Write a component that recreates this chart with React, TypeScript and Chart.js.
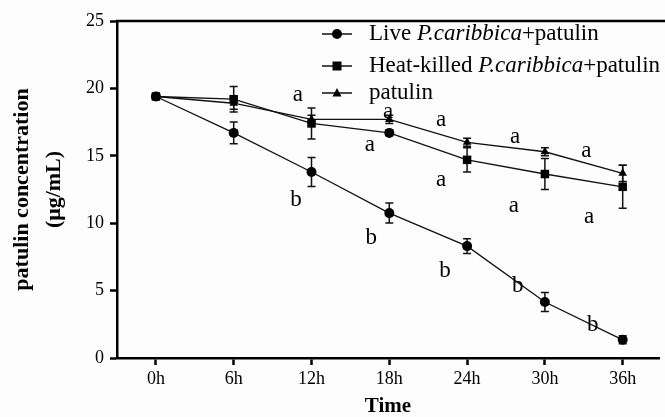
import React, { useEffect, useRef } from 'react';
import { Chart, registerables } from 'chart.js';

Chart.register(...registerables);

// ---- data ----
const hours = [0, 6, 12, 18, 24, 30, 36];
const hourLabels = ['0h', '6h', '12h', '18h', '24h', '30h', '36h'];
const yTicks = [0, 5, 10, 15, 20, 25];

const liveValues = [19.4, 16.7, 13.8, 10.75, 8.3, 4.15, 1.35];
const liveErrors = [0, 0.8, 1.07, 0.74, 0.55, 0.7, 0.3];

const heatValues = [19.4, 19.2, 17.4, 16.7, 14.7, 13.65, 12.7];
const heatErrors = [0, 0.95, 1.15, 0.2, 0.9, 1.15, 1.6];

const patulinValues = [19.4, 18.9, 17.7, 17.7, 16.0, 15.3, 13.7];
const patulinErrors = [0, 0.45, 0.3, 0.3, 0.3, 0.3, 0.6];

const seriesNames = ['Live P.caribbica+patulin', 'Heat-killed P.caribbica+patulin', 'patulin'];
const italicPart = 'P.caribbica';

const annotationLetters = ['a', 'a', 'a', 'a', 'a', 'a', 'a', 'a', 'a', 'b', 'b', 'b', 'b', 'b'];
const annotationX = [10.95, 17.9, 22.0, 27.7, 33.2, 16.5, 22.0, 27.6, 33.4, 10.8, 16.6, 22.3, 27.9, 33.7];
const annotationY = [19.5, 18.25, 17.65, 16.4, 15.35, 15.8, 13.2, 11.3, 10.45, 11.7, 8.9, 6.45, 5.35, 2.45];

const SERIF = "'Liberation Serif', 'Times New Roman', serif";

function drawMarker(ctx: CanvasRenderingContext2D, style: string, x: number, y: number) {
  ctx.beginPath();
  if (style === 'circle') {
    ctx.arc(x, y, 5, 0, Math.PI * 2);
  } else if (style === 'rect') {
    ctx.rect(x - 4.5, y - 4.5, 9, 9);
  } else {
    ctx.moveTo(x, y - 5);
    ctx.lineTo(x + 4.5, y + 3.5);
    ctx.lineTo(x - 4.5, y + 3.5);
    ctx.closePath();
  }
  ctx.fill();
}

const decorPlugin = {
  id: 'decor',
  beforeDraw(chart: any) {
    const ctx = chart.ctx;
    ctx.save();
    ctx.fillStyle = '#fdfdfd';
    ctx.fillRect(0, 0, chart.width, chart.height);
    ctx.restore();
  },
  beforeDatasetsDraw(chart: any) {
    const ctx = chart.ctx;
    const xs = chart.scales.x;
    const ys = chart.scales.y;
    const groups = [
      [liveValues, liveErrors],
      [heatValues, heatErrors],
      [patulinValues, patulinErrors],
    ];
    ctx.save();
    ctx.strokeStyle = '#111';
    ctx.lineWidth = 1.5;
    groups.forEach(([vals, errs]) => {
      vals.forEach((v: number, i: number) => {
        const e = errs[i];
        if (!e) return;
        const px = xs.getPixelForValue(hours[i]);
        const top = ys.getPixelForValue(v + e);
        const bot = ys.getPixelForValue(v - e);
        ctx.beginPath();
        ctx.moveTo(px, top);
        ctx.lineTo(px, bot);
        ctx.moveTo(px - 4, top);
        ctx.lineTo(px + 4, top);
        ctx.moveTo(px - 4, bot);
        ctx.lineTo(px + 4, bot);
        ctx.stroke();
      });
    });
    ctx.restore();
  },
  afterDraw(chart: any) {
    const ctx = chart.ctx;
    const xs = chart.scales.x;
    const ys = chart.scales.y;
    const area = chart.chartArea;
    ctx.save();
    // top frame line
    ctx.strokeStyle = '#000';
    ctx.lineWidth = 2.5;
    ctx.beginPath();
    ctx.moveTo(area.left - 1, area.top);
    ctx.lineTo(chart.width, area.top);
    ctx.stroke();

    // letters
    ctx.fillStyle = '#000';
    ctx.font = `23px ${SERIF}`;
    ctx.textAlign = 'center';
    ctx.textBaseline = 'middle';
    annotationLetters.forEach((t, i) => {
      ctx.fillText(t, xs.getPixelForValue(annotationX[i]), ys.getPixelForValue(annotationY[i]));
    });

    // legend
    const styles = ['circle', 'rect', 'triangle'];
    const rowY = [34, 66, 93];
    seriesNames.forEach((name, i) => {
      const y = rowY[i];
      ctx.strokeStyle = '#111';
      ctx.lineWidth = 1.5;
      ctx.beginPath();
      ctx.moveTo(322, y);
      ctx.lineTo(352, y);
      ctx.stroke();
      ctx.fillStyle = '#000';
      drawMarker(ctx, styles[i], 337, y);
      ctx.textAlign = 'left';
      ctx.textBaseline = 'middle';
      let x = 369;
      const parts = name.split(italicPart);
      parts.forEach((p, k) => {
        ctx.font = `23px ${SERIF}`;
        ctx.fillText(p, x, y);
        x += ctx.measureText(p).width;
        if (k < parts.length - 1) {
          ctx.font = `italic 23px ${SERIF}`;
          ctx.fillText(italicPart, x, y);
          x += ctx.measureText(italicPart).width;
        }
      });
    });
    ctx.restore();
  },
};

export default function App() {
  const canvasRef = useRef<HTMLCanvasElement>(null);

  useEffect(() => {
    const canvas = canvasRef.current;
    if (!canvas) return;
    const mk = (values: number[]) => values.map((v, i) => ({ x: hours[i], y: v }));
    const chart = new Chart(canvas, {
      type: 'line',
      data: {
        datasets: [
          {
            label: seriesNames[0],
            data: mk(liveValues),
            borderColor: '#111',
            backgroundColor: '#000',
            borderWidth: 1.3,
            pointStyle: 'circle',
            pointRadius: 5,
            pointBorderWidth: 0,
            order: 2,
          },
          {
            label: seriesNames[2],
            data: mk(patulinValues),
            borderColor: '#111',
            backgroundColor: '#000',
            borderWidth: 1.3,
            pointStyle: 'triangle',
            pointRadius: 5,
            pointBorderWidth: 0,
            order: 1,
          },
          {
            label: seriesNames[1],
            data: mk(heatValues),
            borderColor: '#111',
            backgroundColor: '#000',
            borderWidth: 1.3,
            pointStyle: ['rect', 'rect', 'rect', 'circle', 'rect', 'rect', 'rect'],
            pointRadius: [6, 6, 6, 5, 6, 6, 6],
            pointBorderWidth: 0,
            order: 0,
          },
        ],
      },
      options: {
        responsive: false,
        animation: false,
        events: [],
        layout: { padding: { top: 21, right: 0, left: 0, bottom: 0 } },
        plugins: {
          legend: { display: false },
          tooltip: { enabled: false },
        },
        scales: {
          x: {
            type: 'linear',
            min: -3,
            max: 38.8,
            afterBuildTicks: (s: any) => {
              s.ticks = hours.map((v) => ({ value: v }));
            },
            afterFit: (s: any) => {
              s.height = 59;
            },
            ticks: {
              callback: (v: any) => {
                const i = hours.indexOf(Number(v));
                return i >= 0 ? hourLabels[i] : '';
              },
              color: '#000',
              font: { family: SERIF, size: 18 },
              padding: 3,
              maxRotation: 0,
              autoSkip: false,
            },
            grid: {
              drawOnChartArea: false,
              drawTicks: true,
              tickLength: 7,
              tickWidth: 2.5,
              color: '#000',
            },
            border: { display: true, width: 2.5, color: '#000' },
            title: {
              display: true,
              text: 'Time',
              color: '#000',
              font: { family: SERIF, size: 21, weight: 'bold', lineHeight: 1 },
              padding: { top: 0, bottom: 0 },
            },
          },
          y: {
            type: 'linear',
            min: 0,
            max: 25,
            afterBuildTicks: (s: any) => {
              s.ticks = yTicks.map((v) => ({ value: v }));
            },
            afterFit: (s: any) => {
              s.width = 117;
            },
            ticks: {
              color: '#000',
              font: { family: SERIF, size: 18 },
              padding: 6,
            },
            grid: {
              drawOnChartArea: false,
              drawTicks: true,
              tickLength: 7,
              tickWidth: 2.5,
              color: '#000',
            },
            border: { display: true, width: 2.5, color: '#000' },
            title: {
              display: true,
              text: ['patulin concentration', '(μg/mL)'],
              color: '#000',
              font: { family: SERIF, size: 22, weight: 'bold', lineHeight: 1.42 },
              padding: { top: 7, bottom: 0 },
            },
          },
        },
      },
      plugins: [decorPlugin],
    });
    return () => chart.destroy();
  }, []);

  return (
    <div style={{ position: 'absolute', left: 0, top: 0, width: 665, height: 417 }}>
      <canvas ref={canvasRef} width={665} height={417} style={{ display: 'block' }} />
    </div>
  );
}
